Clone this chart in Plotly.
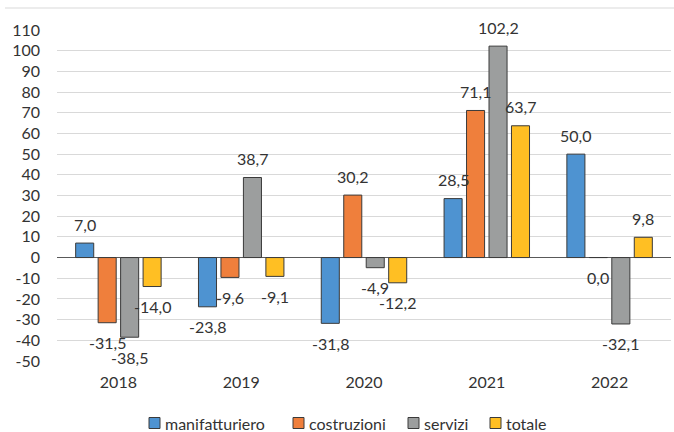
import plotly.graph_objects as go

# Data
years = ["2018", "2019", "2020", "2021", "2022"]
series_names = ["manifatturiero", "costruzioni", "servizi", "totale"]
manifatturiero = [7.0, -23.8, -31.8, 28.5, 50.0]
costruzioni = [-31.5, -9.6, 30.2, 71.1, 0.0]
servizi = [-38.5, 38.7, -4.9, 102.2, -32.1]
totale = [-14.0, -9.1, -12.2, 63.7, 9.8]
y_ticks = list(range(-50, 111, 10))

series_values = [manifatturiero, costruzioni, servizi, totale]
colors = ["#4E93D1", "#EF7F3C", "#9C9E9E", "#FFBF23"]

W, H = 674, 432
ML, MR, MT, MB = 57, 3, 30, 71
PW, PH = W - ML - MR, H - MT - MB
FONT = "Lato"
TXT = "#333333"
EDGE = "#3a3a3a"

# bar geometry in category units
bar_w = 0.147
pitch = 0.183
left0 = -(3 * pitch + bar_w) / 2


def fmt(v):
    return f"{v:.1f}".replace(".", ",")


def px_x(px):
    return (px - ML) / PW


def px_y(py):
    return (H - MB - py) / PH


fig = go.Figure()
annotations = []
shapes = []
for k, (name, vals, col) in enumerate(zip(series_names, series_values, colors)):
    off = left0 + k * pitch
    fig.add_trace(go.Bar(
        x=list(range(len(years))),
        y=vals,
        name=name,
        offset=off,
        width=bar_w,
        marker=dict(color=col, line=dict(color=EDGE, width=1)),
        hoverinfo="skip",
        showlegend=False,
    ))
    for i, v in enumerate(vals):
        annotations.append(dict(
            x=i + off + bar_w / 2, y=v, xref="x", yref="y",
            text=fmt(v), showarrow=False,
            yanchor="middle", xanchor="center",
            yshift=19 if v > 0 else -20,
            font=dict(family=FONT, size=16, color=TXT),
        ))

# legend row: small square swatch followed by the series name
legend_left = [149, 293, 408, 490]
legend_cy = 423
sw = 11
for name, col, lx in zip(series_names, colors, legend_left):
    shapes.append(dict(
        type="rect", xref="paper", yref="paper",
        x0=px_x(lx), x1=px_x(lx + sw),
        y0=px_y(legend_cy + sw / 2), y1=px_y(legend_cy - sw / 2),
        fillcolor=col, line=dict(color=EDGE, width=1),
    ))
    annotations.append(dict(
        x=px_x(lx + sw + 3), y=px_y(legend_cy), xref="paper", yref="paper",
        text=name, showarrow=False, xanchor="left", yanchor="middle",
        font=dict(family=FONT, size=16, color=TXT),
    ))

# thin frame line along the top of the chart
shapes.append(dict(
    type="line", xref="paper", yref="paper",
    x0=px_x(5), x1=px_x(674), y0=px_y(8), y1=px_y(8),
    line=dict(color="#D9D9D9", width=1),
))

fig.update_layout(
    width=W, height=H,
    margin=dict(l=ML, r=MR, t=MT, b=MB),
    paper_bgcolor="white", plot_bgcolor="white",
    barmode="overlay",
    font=dict(family=FONT, size=16, color=TXT),
    annotations=annotations,
    shapes=shapes,
    showlegend=False,
)

fig.update_xaxes(
    range=[-0.5, len(years) - 0.5],
    tickmode="array", tickvals=list(range(len(years))), ticktext=years,
    showgrid=False, zeroline=False, showline=False, ticks="",
    ticklabelstandoff=10,
    tickfont=dict(family=FONT, size=16, color=TXT),
)
fig.update_yaxes(
    range=[-50, 110],
    tickmode="array", tickvals=y_ticks,
    ticktext=[str(t) for t in y_ticks],
    showgrid=True, gridcolor="#D9D9D9", gridwidth=1,
    zeroline=True, zerolinecolor="#595959", zerolinewidth=1,
    showline=False, ticks="",
    ticklabelstandoff=16,
    tickfont=dict(family=FONT, size=16, color=TXT),
)

fig.write_html("out.html")
